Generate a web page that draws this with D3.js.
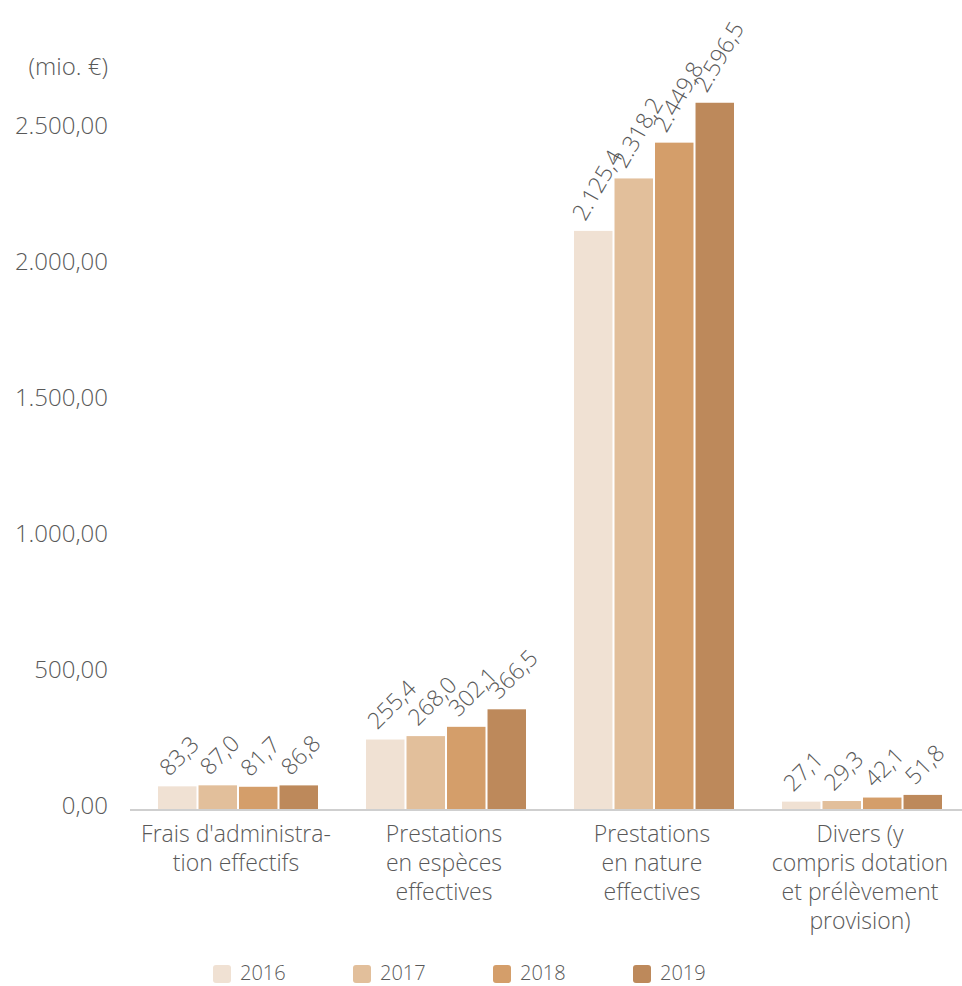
<!DOCTYPE html>
<html>
<head>
<meta charset="utf-8">
<script src="https://cdn.jsdelivr.net/npm/d3@7"></script>
<style>
  html, body { margin: 0; padding: 0; background: #fff; }
  svg { display: block; font-family: "Open Sans", "Noto Sans", sans-serif; }
</style>
</head>
<body>
<svg id="chart" width="962" height="986"></svg>
<script>
// Dépenses par catégorie (mio. €)
const categories = [
  ["Frais d'administra-", "tion effectifs"],
  ["Prestations", "en espèces", "effectives"],
  ["Prestations", "en nature", "effectives"],
  ["Divers (y", "compris dotation", "et prélèvement", "provision)"]
];
const years = ["2016", "2017", "2018", "2019"];
const values2016 = [83.3, 255.4, 2125.4, 27.1];
const values2017 = [87.0, 268.0, 2318.2, 29.3];
const values2018 = [81.7, 302.1, 2449.8, 42.1];
const values2019 = [86.8, 366.5, 2596.5, 51.8];
const series = [values2016, values2017, values2018, values2019];
const colors = ["#F0E1D3", "#E2BF9B", "#D49E6A", "#BD895B"];
const yTicks = [0, 500, 1000, 1500, 2000, 2500];
// label rotation per category (the tall group is steeper to avoid collisions)
const labelAngles = [-45, -45, -60, -45];

const textColor = "#595959";
const svg = d3.select("#chart");

const loc = d3.formatLocale({ decimal: ",", thousands: ".", grouping: [3], currency: ["", "€"] });
const fmtVal = loc.format(",.1f");
const fmtTick = loc.format(",.2f");

const x0 = d3.scaleBand().domain(d3.range(categories.length)).range([134, 966]);
const groupInner = 160;
const x1 = d3.scaleBand().domain(d3.range(years.length)).range([0, groupInner]).paddingInner(0.05);
const y = d3.scaleLinear().domain([0, 2500]).range([809, 129]);

// Unit label
svg.append("text")
  .attr("x", 108).attr("y", 75)
  .attr("text-anchor", "end")
  .attr("fill", textColor)
  .style("font-size", "24px").style("font-weight", 300)
  .text("(mio. €)");

// Y axis tick labels
const yAxis = d3.axisLeft(y).tickValues(yTicks).tickFormat(fmtTick).tickSize(0).tickPadding(0);
const yg = svg.append("g").attr("transform", "translate(108,0)").call(yAxis);
yg.select(".domain").remove();
yg.selectAll("text")
  .attr("fill", textColor)
  .attr("y", -3)
  .style("font-size", "24px").style("font-weight", 300)
  .style("font-family", "'Open Sans', 'Noto Sans', sans-serif");

// Bars
const groups = svg.append("g").selectAll("g")
  .data(categories.map((c, i) => i))
  .join("g")
  .attr("transform", i => `translate(${x0(i) + (x0.bandwidth() - groupInner) / 2},0)`);

groups.selectAll("rect")
  .data(i => series.map((s, k) => ({ k, v: s[i] })))
  .join("rect")
  .attr("x", d => x1(d.k))
  .attr("width", x1.bandwidth())
  .attr("y", d => y(d.v))
  .attr("height", d => y(0) - y(d.v))
  .attr("fill", d => colors[d.k]);

// Value labels, rotated
groups.selectAll("text.val")
  .data(i => series.map((s, k) => ({ k, v: s[i], a: labelAngles[i] })))
  .join("text")
  .attr("class", "val")
  .attr("transform", d => `translate(${x1(d.k) + x1.bandwidth() / 2 - 8},${y(d.v) - 9}) rotate(${d.a})`)
  .attr("fill", textColor)
  .style("font-size", "23px").style("font-weight", 300)
  .text(d => fmtVal(d.v));

// Baseline
svg.append("line")
  .attr("x1", 130).attr("x2", 962)
  .attr("y1", y(0) + 1).attr("y2", y(0) + 1)
  .attr("stroke", "#CFCFCF").attr("stroke-width", 2);

// Category labels
const catG = svg.append("g");
categories.forEach((lines, i) => {
  lines.forEach((ln, j) => {
    catG.append("text")
      .attr("text-anchor", "middle")
      .attr("fill", textColor)
      .style("font-size", "23px").style("font-weight", 300)
      .attr("x", x0(i) + x0.bandwidth() / 2 - 2)
      .attr("y", 842 + j * 29)
      .text(ln);
  });
});

// Legend
const legend = svg.append("g");
years.forEach((yr, k) => {
  const lx = 213 + k * 140;
  legend.append("rect")
    .attr("x", lx).attr("y", 965).attr("width", 18).attr("height", 18)
    .attr("rx", 3)
    .attr("fill", colors[k]);
  legend.append("text")
    .attr("x", lx + 27).attr("y", 980)
    .attr("fill", textColor)
    .style("font-size", "20px").style("font-weight", 300)
    .text(yr);
});
</script>
</body>
</html>
